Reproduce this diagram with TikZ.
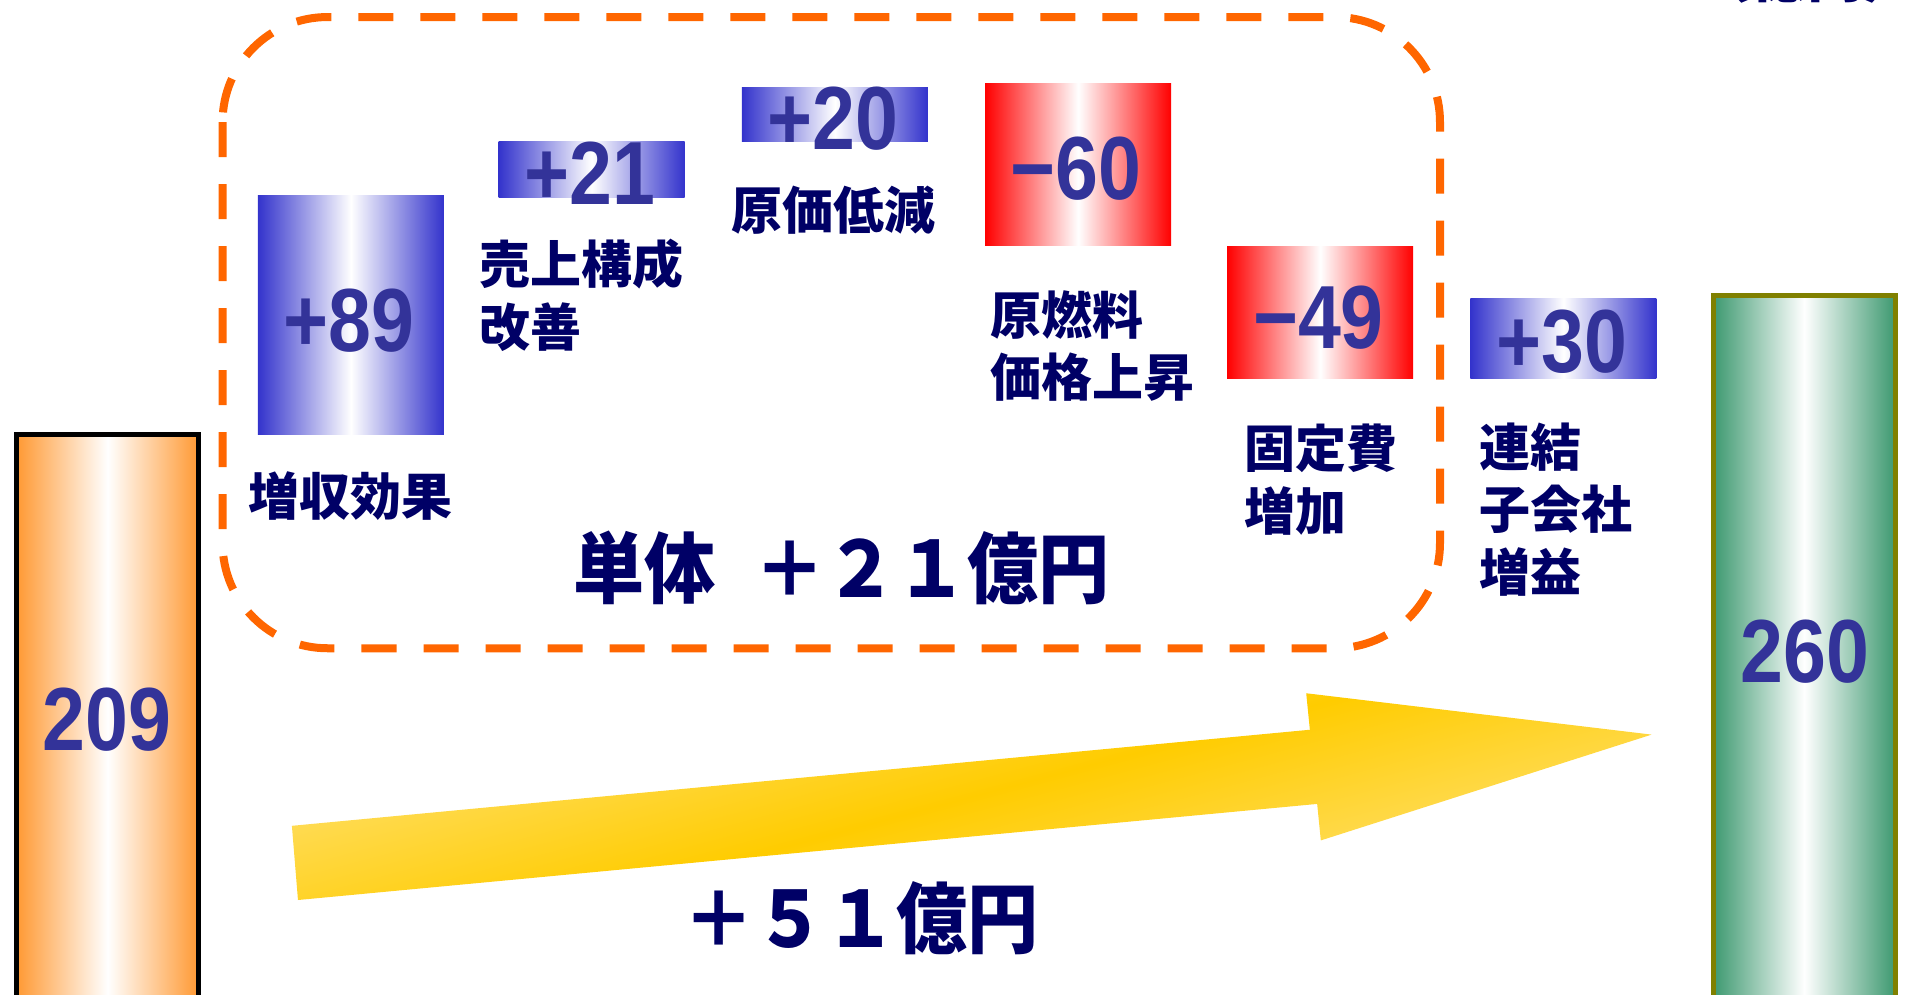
\documentclass[tikz,border=0pt]{standalone}
\usepackage{fontspec}
\usepackage{tikz}
\newfontfamily\numfont[FakeStretch=0.86]{Liberation Sans}
\newfontfamily\jpfont{Noto Sans CJK JP}
\newfontfamily\jpnarrow[FakeStretch=0.92]{Noto Sans CJK JP}
\definecolor{numblue}{HTML}{333399}
\definecolor{navy}{HTML}{000066}
\definecolor{edgeblue}{HTML}{3333CC}
\definecolor{edgered}{HTML}{FF0000}
\definecolor{barorange}{HTML}{FF9933}
\definecolor{bargreen}{HTML}{3D9970}
\definecolor{barolive}{HTML}{808000}
\definecolor{dashorange}{HTML}{FF6600}
\definecolor{ydark}{HTML}{FFCC00}
\definecolor{ylight}{HTML}{FFE27A}
\tikzset{
  upbox/.style={rectangle,inner sep=0pt,minimum width=1.86cm,left color=edgeblue,right color=edgeblue,middle color=white},
  downbox/.style={rectangle,inner sep=0pt,minimum width=1.86cm,left color=edgered,right color=edgered,middle color=white},
  totalbar/.style={rectangle,inner sep=0pt,minimum width=1.82cm,line width=0.45mm},
  num/.style={text=numblue,inner sep=0pt,font=\numfont\bfseries\fontsize{25.5}{30}\selectfont},
  lbl/.style={text=navy,inner sep=0pt,align=left,font=\jpfont\bfseries\fontsize{14.5}{17.8}\selectfont},
  sumtxt/.style={text=navy,inner sep=0pt,font=\jpnarrow\bfseries\fontsize{22}{26}\selectfont}
}
\begin{document}
\begin{tikzpicture}[x=0.012162cm,y=-0.012162cm]
\useasboundingbox (0,0) rectangle (1568,818);
\clip (0,0) rectangle (1568,818);
\node[lbl,anchor=base west,font=\jpfont\bfseries\fontsize{16}{18}\selectfont] (unit) at (1393,-2) {（億円）};
\draw[dashorange,line width=0.8mm,dash pattern=on 3.5mm off 2.7mm,rounded corners=1.05cm] (183,14) rectangle (1184,533);
\shade[top color=ylight,bottom color=ylight,middle color=ydark,shading angle=15]
  (240,679) -- (1077,600) -- (1074,570) -- (1358,604) -- (1086,691) -- (1083,661) -- (245,740) -- cycle;
\node[totalbar,draw=black,minimum height=5.87cm,left color=barorange,right color=barorange,middle color=white] (start) at (88.5,598.5) {};
\node[num] (v209) at (88,592) {209};
\node[totalbar,draw=barolive,minimum height=7.26cm,left color=bargreen,right color=bargreen,middle color=white] (goal) at (1483.5,541.5) {};
\node[num] (v260) at (1484,536) {260};
\node[upbox,minimum height=2.384cm] (p89) at (288.5,259) {};
\node[num] (n89) at (287,263.5) {+89};
\node[upbox,minimum height=0.559cm] (p21) at (486.5,139) {};
\node[num] (n21) at (485,142.5) {+21};
\node[upbox,minimum height=0.535cm] (p20) at (686.5,94) {};
\node[num] (n20) at (685,97.5) {+20};
\node[downbox,minimum height=1.618cm] (m60) at (886.5,135.5) {};
\node[num] (n60) at (885,138.5) {−60};
\node[downbox,minimum height=1.313cm] (m49) at (1085.5,257) {};
\node[num] (n49) at (1084,261) {−49};
\node[upbox,minimum height=0.803cm] (p30) at (1285.5,278.5) {};
\node[num] (n30) at (1284,281) {+30};
\node[lbl] (l89) at (288,408) {増収効果};
\node[lbl,anchor=north west] (l21) at (394,196) {売上構成\\改善};
\node[lbl] (l20) at (685,173) {原価低減};
\node[lbl,anchor=north west] (l60) at (814,238) {原燃料\\価格上昇};
\node[lbl,anchor=north west] (l49) at (1023,348) {固定費\\増加};
\node[lbl,anchor=north west] (l30) at (1216,347) {連結\\子会社\\増益};
\node[sumtxt] (solo) at (692,467) {単体\hspace{0.5em}＋２１億円};
\node[sumtxt] (total) at (708,755) {＋５１億円};
\end{tikzpicture}
\end{document}
